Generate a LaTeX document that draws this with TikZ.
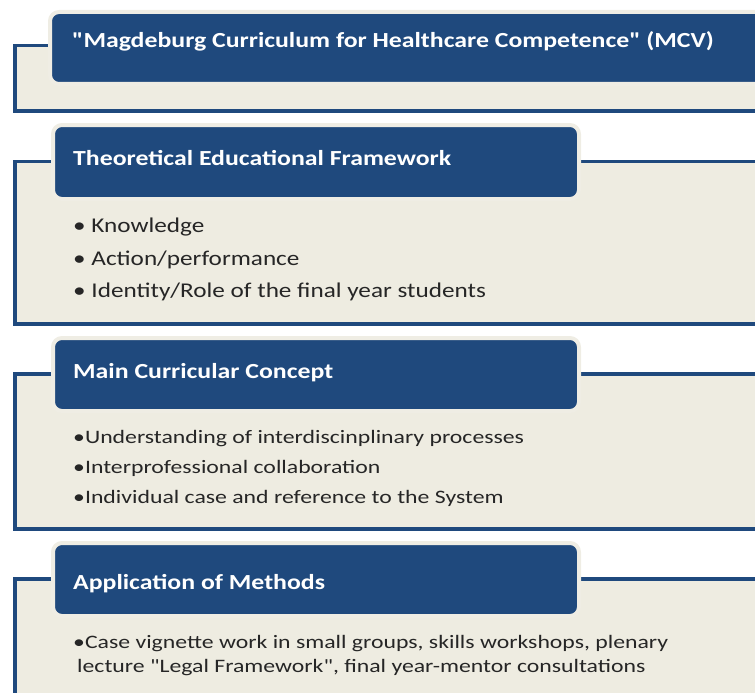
\documentclass[tikz,border=0pt]{standalone}
\usepackage{fontspec}
\setmainfont{Carlito}[Ligatures=TeXOff]
\newfontfamily\titlefont{Carlito}[FakeStretch=1.2,Ligatures=TeXOff]
\newfontfamily\bodyAfont{Carlito}[FakeStretch=1.2,Ligatures=TeXOff]
\newfontfamily\bodyBfont{Carlito}[FakeStretch=1.25,Ligatures=TeXOff]
\definecolor{hblue}{HTML}{1F497D}
\definecolor{lineblue}{HTML}{1F497D}
\definecolor{beige}{HTML}{EEECE1}
\definecolor{halo}{HTML}{EFEDE4}
\definecolor{textgray}{HTML}{262626}
\begin{document}
\begin{tikzpicture}[x=1pt,y=-1pt,
  panel/.style={fill=beige, draw=lineblue, line width=3.5pt, anchor=north west, inner sep=0pt, minimum width=762pt},
  header/.style={fill=hblue, draw=halo, line width=4pt, rounded corners=9pt, inner sep=0pt, anchor=north west},
  title/.style={anchor=base west, text=white, font=\titlefont\bfseries\fontsize{21.5}{25}\selectfont, inner sep=0pt},
  itemA/.style={anchor=base west, text=textgray, inner sep=0pt, font=\bodyAfont\fontsize{21}{25}\selectfont},
  itemB/.style={anchor=base west, text=textgray, inner sep=0pt, font=\bodyBfont\fontsize{19}{23}\selectfont}]
\useasboundingbox (0,0) rectangle (755,693);
\clip (0,0) rectangle (755,693);
% panels
\node[panel, minimum height=65pt] (p1) at (13,44) {};
\node[panel, minimum height=162.5pt] (p2) at (13,159.5) {};
\node[panel, minimum height=155pt] (p3) at (13,372) {};
\node[panel, minimum height=150pt] (p4) at (13,577) {};
% headers
\node[header, minimum width=752pt, minimum height=72pt] (h1) at (48,10) {};
\node[header, minimum width=526pt, minimum height=74pt] (h2) at (51,123) {};
\node[header, minimum width=526pt, minimum height=73pt] (h3) at (51,336) {};
\node[header, minimum width=526pt, minimum height=73pt] (h4) at (51,541) {};
% titles
\node[title] (t1) at (72,48) {"Magdeburg Curriculum for Healthcare Competence" (MCV)};
\node[title] (t2) at (73,165) {Theoretical Educational Framework};
\node[title] (t3) at (73,378) {Main Curricular Concept};
\node[title] (t4) at (73,589) {Application of Methods};
% items
\node[itemA] (a1) at (73,232) {• Knowledge};
\node[itemA] (a2) at (73,265) {• Action/performance};
\node[itemA] (a3) at (73,297) {• Identity/Role of the final year students};
\node[itemB] (b1) at (73,443) {•Understanding of interdiscinplinary processes};
\node[itemB] (b2) at (73,473) {•Interprofessional collaboration};
\node[itemB] (b3) at (73,503) {•Individual case and reference to the System};
\node[itemB] (c1) at (73,648) {•Case vignette work in small groups, skills workshops, plenary};
\node[itemB] (c2) at (77,672) {lecture "Legal Framework", final year-mentor consultations};
\end{tikzpicture}
\end{document}
